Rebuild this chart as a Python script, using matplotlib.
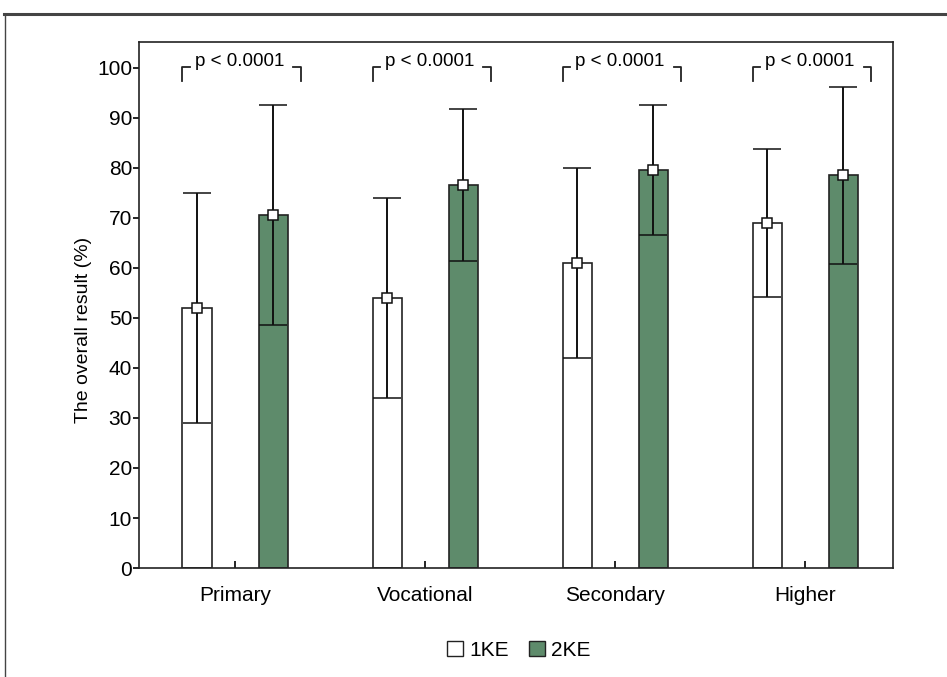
import numpy as np
import matplotlib
matplotlib.use("Agg")
import matplotlib.pyplot as plt
from matplotlib.patches import Patch
from matplotlib.lines import Line2D

plt.rcParams['font.family'] = ['Liberation Sans', 'DejaVu Sans']

# data
groups = ['Primary', 'Vocational', 'Secondary', 'Higher']
mean_1ke = [52, 54, 61, 69]
sd_1ke = [23, 20, 19, 14.8]
mean_2ke = [70.5, 76.5, 79.5, 78.5]
sd_2ke = [22, 15.2, 13, 17.7]
p_text = ['p < 0.0001'] * 4

green = '#5e8b6b'
edge = '#222222'

fig = plt.figure(figsize=(9.47, 6.77), dpi=100)
ax = fig.add_axes([0.1468, 0.161, 0.796, 0.777])

x = np.arange(len(groups))
off = 0.2
w = 0.153

ax.bar(x - off, mean_1ke, w, color='white', edgecolor=edge, linewidth=1.2, zorder=2)
ax.bar(x + off, mean_2ke, w, color=green, edgecolor=edge, linewidth=1.2, zorder=2)

for xs, m, s in [(x - off, mean_1ke, sd_1ke), (x + off, mean_2ke, sd_2ke)]:
    ax.errorbar(xs, m, yerr=s, fmt='s', color='#111111', ecolor='#111111',
                elinewidth=1.4, capsize=10, capthick=3, markersize=6.5,
                markerfacecolor='white', markeredgecolor='#111111',
                markeredgewidth=1.1, zorder=3)

# p-value brackets
for i, t in enumerate(p_text):
    xl = x[i] - off - w / 2
    xr = x[i] + off + w / 2 + 0.07
    ax.plot([xl, xl, xl + 0.04], [97.3, 100.2, 100.2], color=edge, lw=1.3, clip_on=False)
    ax.plot([xr - 0.04, xr, xr], [100.2, 100.2, 97.3], color=edge, lw=1.3, clip_on=False)
    ax.text((xl + xr) / 2 - 0.01, 101.3, t, ha='center', va='center', fontsize=13.5)

ax.set_xlim(-0.505, 3.46)
ax.set_ylim(0, 105.2)
ax.set_yticks(np.arange(0, 101, 10))
ax.set_xticks(x)
ax.set_xticklabels(groups)
ax.tick_params(axis='y', direction='out', length=4, width=1.2, labelsize=15, pad=1)
ax.tick_params(axis='x', direction='in', length=5, width=1.2, labelsize=15, pad=13)
ax.set_ylabel('The overall result (%)', fontsize=14)
ax.yaxis.set_label_coords(-0.062, 0.452)
for sp in ax.spines.values():
    sp.set_linewidth(1.2)
    sp.set_color(edge)

handles = [Patch(facecolor='white', edgecolor=edge, label='1KE'),
           Patch(facecolor=green, edgecolor=edge, label='2KE')]
fig.legend(handles=handles, loc='center', bbox_to_anchor=(0.548, 0.039), ncol=2,
           frameon=False, fontsize=15, handlelength=0.75, handleheight=0.75,
           handletextpad=0.3, columnspacing=1.0)

# outer frame
fig.add_artist(Line2D([0.004, 1.0], [1 - 14 / 677, 1 - 14 / 677], color='#444444', lw=2.2))
fig.add_artist(Line2D([0.0055, 0.0055], [0, 1 - 14 / 677], color='#444444', lw=1.0))

fig.savefig('out.png', dpi=100)
